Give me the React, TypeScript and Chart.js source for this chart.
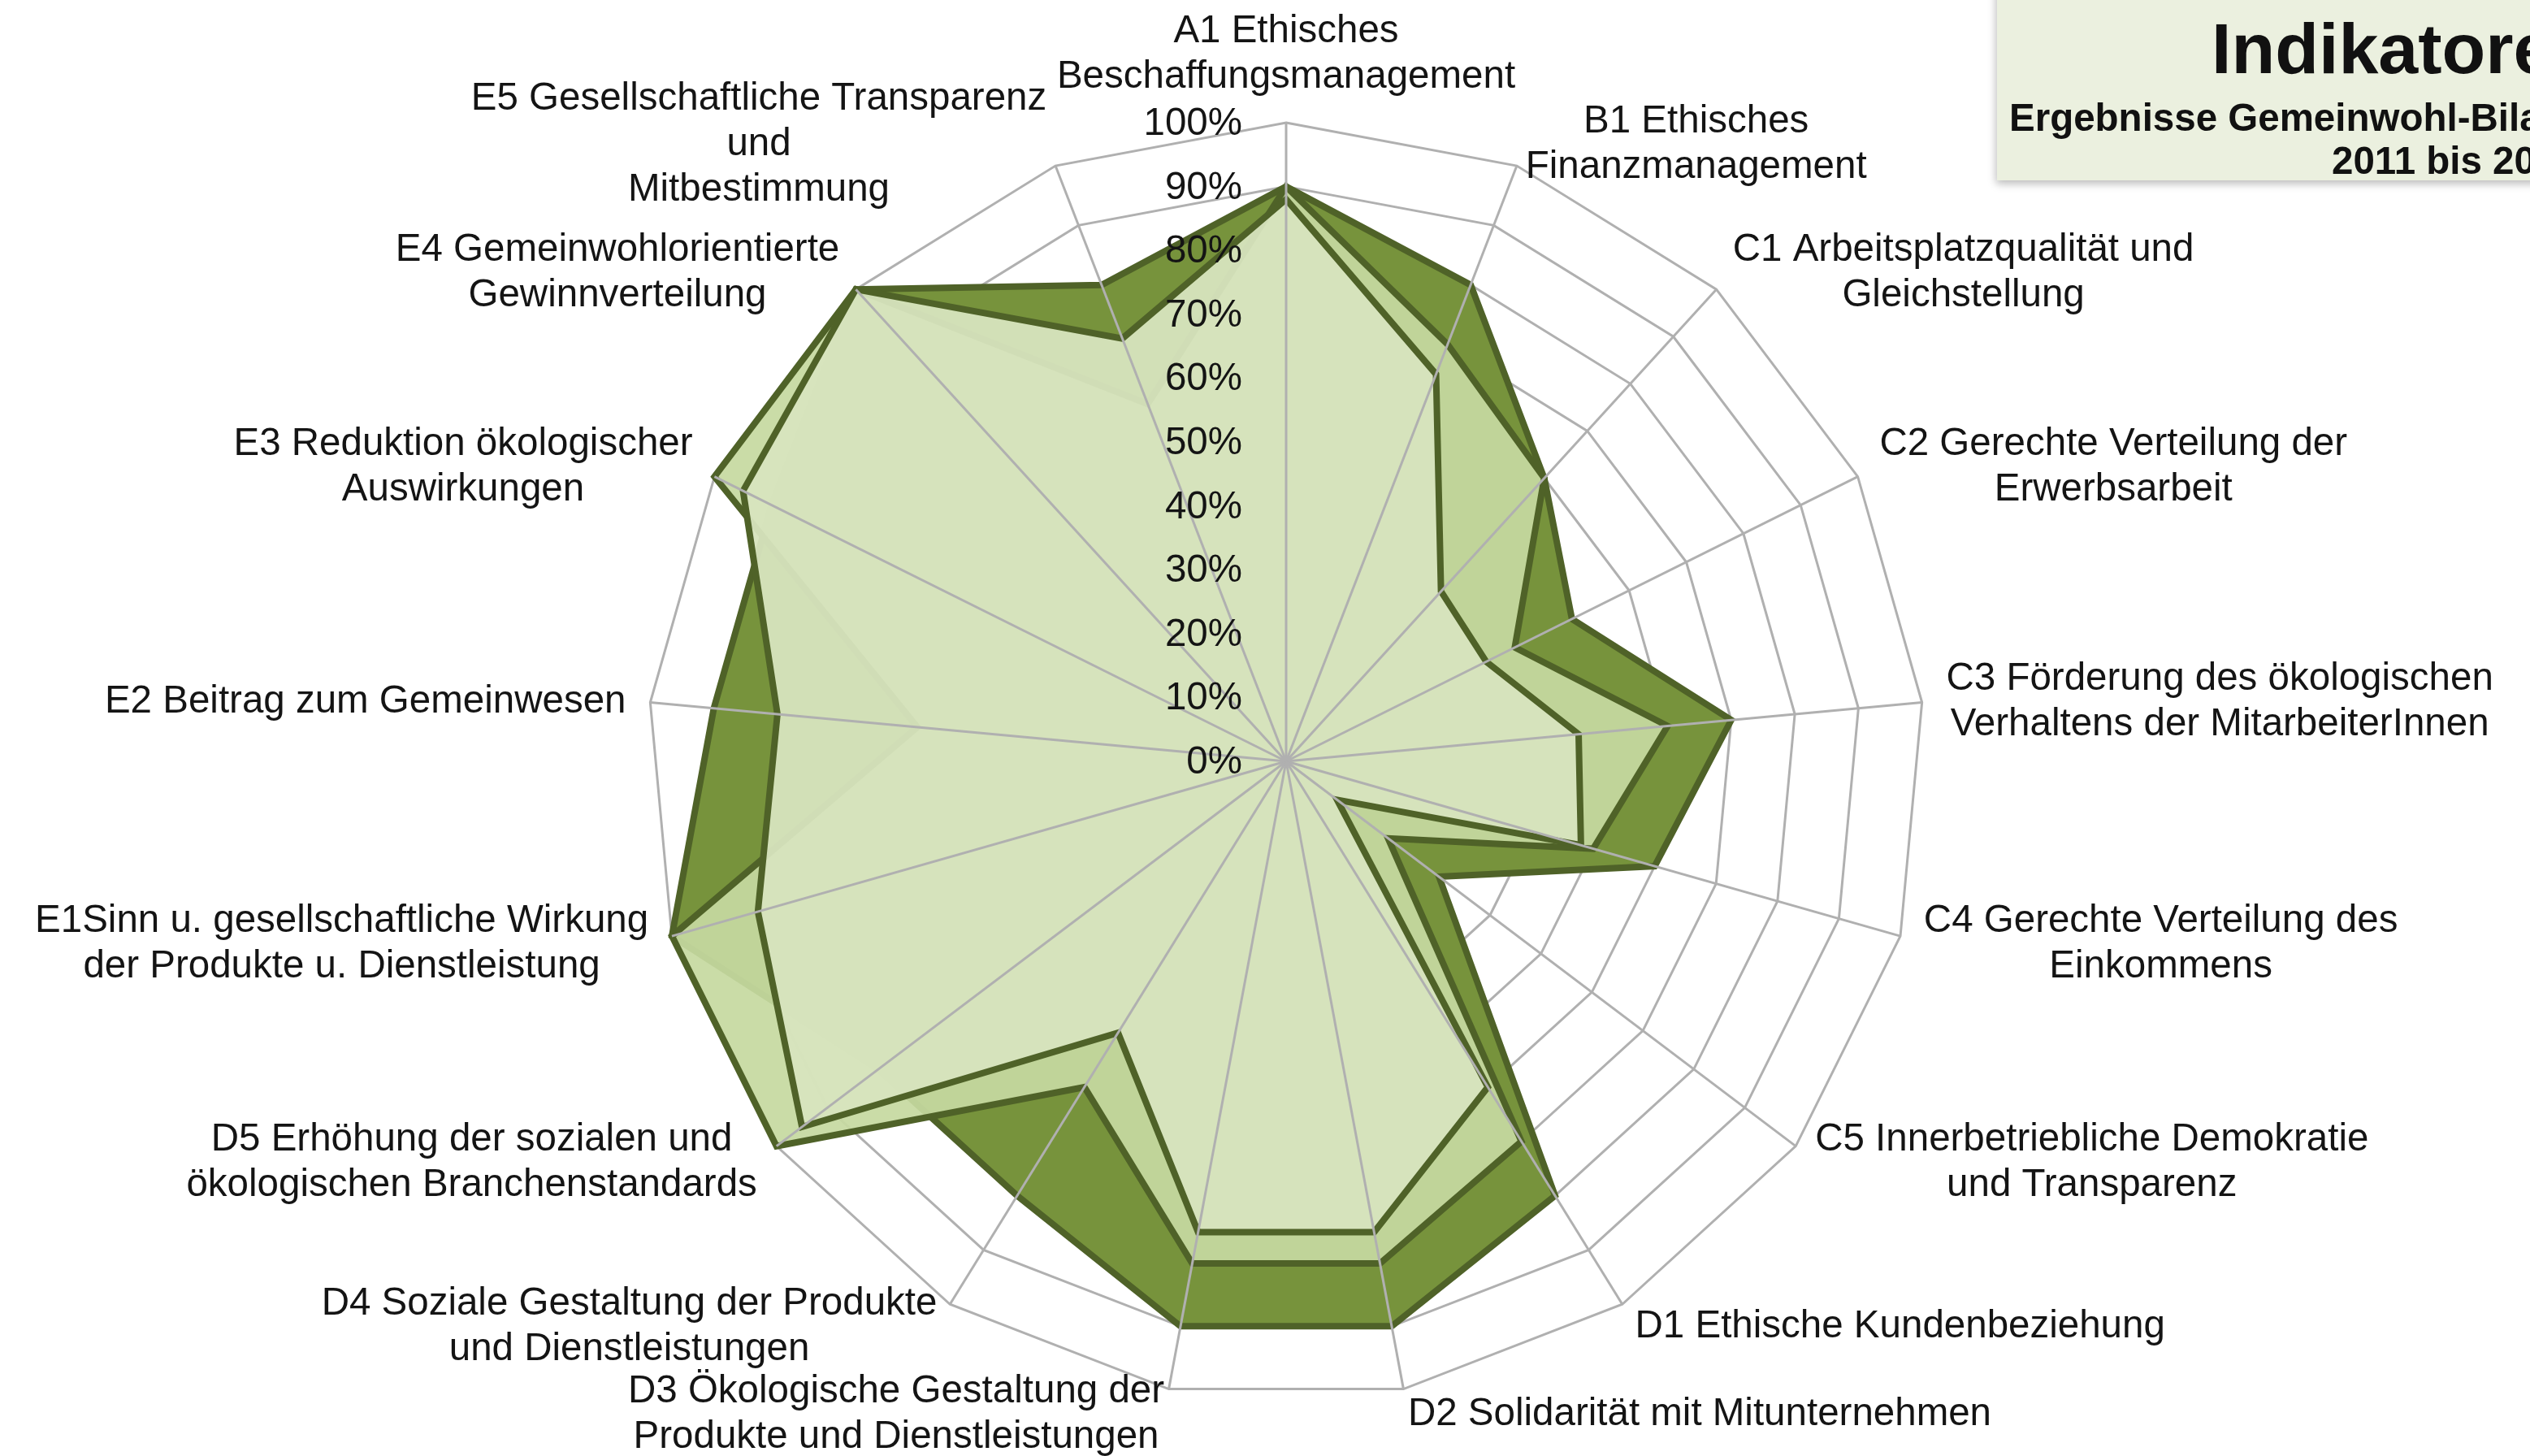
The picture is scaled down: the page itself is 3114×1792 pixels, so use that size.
import React, { useEffect, useRef } from "react";
import Chart from "chart.js/auto";

// ---------- data ----------
const categories: string[][] = [
  ["A1 Ethisches", "Beschaffungsmanagement"],
  ["B1 Ethisches", "Finanzmanagement"],
  ["C1 Arbeitsplatzqualität und", "Gleichstellung"],
  ["C2 Gerechte Verteilung der", "Erwerbsarbeit"],
  ["C3 Förderung des ökologischen", "Verhaltens der MitarbeiterInnen"],
  ["C4 Gerechte Verteilung des", "Einkommens"],
  ["C5 Innerbetriebliche Demokratie", "und Transparenz"],
  ["D1 Ethische Kundenbeziehung"],
  ["D2 Solidarität mit Mitunternehmen"],
  ["D3 Ökologische Gestaltung der", "Produkte und Dienstleistungen"],
  ["D4 Soziale Gestaltung der Produkte", "und Dienstleistungen"],
  ["D5 Erhöhung der sozialen und", "ökologischen Branchenstandards"],
  ["E1Sinn u. gesellschaftliche Wirkung", "der Produkte u. Dienstleistung"],
  ["E2 Beitrag zum Gemeinwesen"],
  ["E3 Reduktion ökologischer", "Auswirkungen"],
  ["E4 Gemeinwohlorientierte", "Gewinnverteilung"],
  ["E5 Gesellschaftliche Transparenz", "und", "Mitbestimmung"],
];

const seriesNames = ["2011", "2012", "2013"];
const values2011 = [90, 80, 60, 50, 70, 60, 30, 80, 90, 90, 80, 80, 100, 90, 90, 100, 80];
const values2012 = [90, 70, 60, 40, 60, 50, 20, 70, 80, 80, 60, 100, 100, 58, 100, 100, 60];
const values2013 = [88, 65, 36, 35, 46, 48, 10, 60, 75, 75, 50, 95, 86, 80, 95, 100, 71];

const axisMin = 0;
const axisMax = 100;
const axisStep = 10;

const titleLines = ["Indikatoren", "Ergebnisse Gemeinwohl-Bilanzen", "2011 bis 2013"];

// ---------- styles ----------
const W = 3114;
const H = 1792;
const CX = 1583;
const CY = 937;
const RADIUS = 786;
const FONT = '"Liberation Sans", Arial, sans-serif';
const LABEL_SIZE = 47.5;
const LINE_H = 56;
const LABEL_PAD = 30;
const TEXT_COLOR = "#141414";
const GRID_COLOR = "#B0B0B0";
const GRID_W = 3;
const OUTLINE = "#4F6228";

const overlayPlugin = {
  id: "overlay",
  afterDatasetsDraw(chart: any) {
    const scale = chart.scales.r;
    const ctx: CanvasRenderingContext2D = chart.ctx;
    const labels = chart.data.labels as string[][];
    const n = labels.length;
    ctx.save();
    // spokes above the filled areas
    ctx.strokeStyle = GRID_COLOR;
    ctx.lineWidth = GRID_W;
    for (let i = 0; i < n; i++) {
      const p = scale.getPointPosition(i, scale.drawingArea);
      ctx.beginPath();
      ctx.moveTo(scale.xCenter, scale.yCenter);
      ctx.lineTo(p.x, p.y);
      ctx.stroke();
    }
    // tick labels, left of the vertical axis
    ctx.font = `${LABEL_SIZE}px ${FONT}`;
    ctx.fillStyle = TEXT_COLOR;
    ctx.textAlign = "right";
    ctx.textBaseline = "middle";
    scale.ticks.forEach((t: any) => {
      const d = scale.getDistanceFromCenterForValue(t.value);
      const lbl = typeof t.label === "string" ? t.label : `${t.value}%`;
      ctx.fillText(lbl, scale.xCenter - 54, scale.yCenter - d + 2);
    });
    // category labels
    ctx.textAlign = "center";
    for (let i = 0; i < n; i++) {
      const lines = labels[i];
      const p = scale.getPointPosition(i, scale.drawingArea + LABEL_PAD);
      const angle = scale.getIndexAngle(i);
      const s = Math.sin(angle);
      const c = Math.cos(angle);
      const maxW = Math.max(...lines.map((l) => ctx.measureText(l).width));
      let cx = p.x;
      if (s > 0.05) cx = p.x + maxW / 2;
      else if (s < -0.05) cx = p.x - maxW / 2;
      const blockH = lines.length * LINE_H;
      let cy = p.y;
      if (Math.abs(s) <= 0.05 && c > 0) cy = p.y - blockH / 2;
      else if (Math.abs(s) <= 0.05 && c < 0) cy = p.y + blockH / 2;
      lines.forEach((l, k) => {
        const y = cy - ((lines.length - 1) / 2) * LINE_H + k * LINE_H;
        ctx.fillText(l, cx, y + 2);
      });
    }
    ctx.restore();
  },
  afterDraw(chart: any) {
    const ctx: CanvasRenderingContext2D = chart.ctx;
    ctx.save();
    // title box
    ctx.shadowColor = "rgba(0,0,0,0.28)";
    ctx.shadowBlur = 10;
    ctx.shadowOffsetX = -1;
    ctx.shadowOffsetY = 4;
    ctx.fillStyle = "#EBF0DF";
    ctx.fillRect(2458, -30, 760, 252);
    ctx.restore();
    ctx.save();
    ctx.fillStyle = "#111111";
    ctx.textAlign = "left";
    ctx.textBaseline = "alphabetic";
    ctx.font = `bold 88px ${FONT}`;
    ctx.fillText(titleLines[0], 2722, 90);
    ctx.font = `bold 47.5px ${FONT}`;
    ctx.fillText(titleLines[1], 2473, 161);
    ctx.fillText(titleLines[2], 2870, 214);
    ctx.restore();
  },
};

export default function App() {
  const ref = useRef<HTMLCanvasElement>(null);
  useEffect(() => {
    const canvas = ref.current;
    if (!canvas) return;
    const common = {
      borderColor: OUTLINE,
      borderWidth: 8,
      borderJoinStyle: "miter" as const,
      pointRadius: 0,
      pointHoverRadius: 0,
      fill: true,
      tension: 0,
    };
    const chart = new Chart(canvas, {
      type: "radar",
      data: {
        labels: categories,
        datasets: [
          { ...common, label: seriesNames[0], data: values2011, backgroundColor: "rgb(119,147,60)", order: 3 },
          { ...common, label: seriesNames[1], data: values2012, backgroundColor: "rgba(198,217,160,0.93)", order: 2 },
          { ...common, label: seriesNames[2], data: values2013, backgroundColor: "rgba(215,228,190,0.95)", order: 1 },
        ],
      },
      options: {
        responsive: false,
        maintainAspectRatio: false,
        devicePixelRatio: 1,
        animation: false,
        events: [],
        layout: {
          padding: {
            left: CX - RADIUS,
            top: CY - RADIUS,
            right: W - (CX + RADIUS),
            bottom: H - (CY + RADIUS),
          },
        },
        plugins: {
          legend: { display: false },
          title: { display: false },
          tooltip: { enabled: false },
        },
        scales: {
          r: {
            min: axisMin,
            max: axisMax,
            startAngle: 0,
            ticks: {
              display: false,
              stepSize: axisStep,
              callback: (v: any) => `${v}%`,
            },
            grid: { color: GRID_COLOR, lineWidth: GRID_W, circular: false },
            angleLines: { display: false },
            pointLabels: { display: false },
          },
        },
      },
      plugins: [overlayPlugin],
    });
    return () => chart.destroy();
  }, []);
  return (
    <div
      style={{
        position: "fixed",
        left: 0,
        top: 0,
        width: W,
        height: H,
        overflow: "hidden",
        background: "#ffffff",
      }}
    >
      <canvas ref={ref} width={W} height={H} style={{ display: "block", width: W, height: H }} />
    </div>
  );
}
